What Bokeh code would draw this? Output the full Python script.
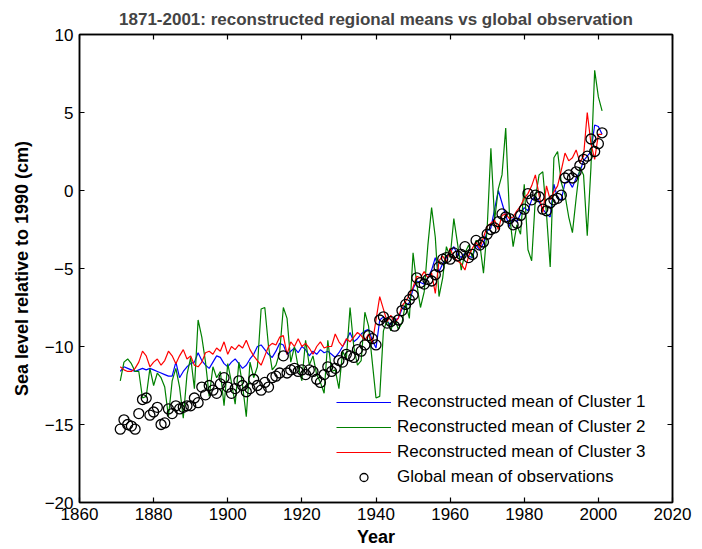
import numpy as np
from bokeh.plotting import figure
from bokeh.models import Range1d, LinearAxis, Legend, LegendItem, FixedTicker, ColumnDataSource
from bokeh.embed import file_html
from bokeh.resources import INLINE

years = list(range(1871, 2002))

obs = [-15.3, -14.7, -15.0, -15.1, -15.3, -14.3, -13.4, -13.3, -14.4, -14.2,
       -13.9, -15.0, -14.9, -14.0, -14.3, -13.8, -14.0, -13.9, -13.8, -13.8,
       -13.3, -13.6, -12.6, -13.1, -12.5, -12.8, -13.0, -12.4, -12.0, -12.6,
       -13.0, -12.7, -12.2, -12.5, -12.9, -12.7, -12.1, -12.5, -12.8, -12.3,
       -12.6, -12.0, -11.9, -11.7, -10.6, -11.7, -11.5, -11.4, -11.6, -11.5,
       -11.8, -11.5, -11.6, -12.1, -12.3, -11.8, -11.3, -11.6, -11.4, -10.9,
       -11.0, -10.5, -10.6, -10.7, -10.2, -10.3, -9.9, -9.3, -9.5, -9.9,
       -8.3, -8.1, -8.5, -8.4, -8.7, -8.3, -7.7, -7.3, -7.0, -6.7,
       -5.6, -5.9, -6.0, -5.7, -5.8, -5.4, -4.9, -4.4, -4.3, -4.4,
       -4.0, -4.2, -4.1, -3.6, -4.3, -4.1, -3.2, -3.5, -3.3, -2.8,
       -2.5, -2.4, -2.0, -1.5, -1.7, -1.8, -2.2, -2.1, -1.6, -1.2,
       -0.2, -0.6, -0.3, -0.4, -1.2, -1.3, -0.8, -0.6, -0.5, -0.3,
       0.8, 1.0, 0.8, 1.2, 1.6, 2.0, 2.2, 3.3, 2.5, 3.0, 3.7]

cluster1 = [-11.6, -11.3, -11.4, -11.5, -11.6, -11.5, -11.4, -11.5, -11.4, -11.5,
            -11.6, -11.7, -11.8, -11.9, -11.9, -11.0, -12.0, -11.6, -11.3, -11.1,
            -11.0, -10.4, -10.9, -11.2, -11.4, -11.0, -10.6, -10.7, -11.1, -11.3,
            -11.0, -10.8, -11.1, -11.4, -11.2, -10.8, -10.5, -10.0, -9.9, -10.2,
            -10.5, -10.7, -10.3, -9.8, -9.9, -10.5, -10.3, -10.1, -10.4, -10.0,
            -10.2, -10.6, -10.3, -10.5, -10.2, -10.4, -10.3, -10.5, -10.7, -10.4,
            -10.0, -9.6, -9.1, -9.7, -9.5, -9.2, -9.0, -8.9, -9.6, -10.1,
            -8.3, -8.1, -8.4, -8.6, -8.3, -8.2, -7.6, -7.4, -7.2, -6.3,
            -5.8, -5.9, -6.0, -5.6, -5.1, -4.3, -5.2, -4.7, -4.3, -4.0,
            -3.6, -4.1, -4.3, -4.0, -4.2, -4.3, -3.5, -3.8, -3.4, -2.6,
            -2.4, -1.2, 0.0, -0.8, -1.6, -2.3, -1.8, -2.0, -1.5, -1.1,
            -1.3, -0.6, -0.4, -0.7, -1.2, -1.5, -1.7, 0.4, -0.5, -0.6,
            0.5, 0.6, 0.2, 0.8, 1.2, 1.9, 2.2, 2.5, 4.2, 4.1, 3.6]

cluster2 = [-12.2, -11.0, -10.8, -11.1, -11.6, -11.6, -13.3, -13.2, -11.4, -12.5,
            -11.7, -12.0, -12.6, -14.5, -12.2, -11.4, -12.6, -14.6, -11.8, -10.7,
            -12.7, -8.3, -9.4, -11.0, -13.2, -11.3, -12.0, -11.6, -13.8, -11.1,
            -12.3, -13.7, -11.0, -12.5, -14.5, -11.0, -12.0, -11.3, -7.6, -7.5,
            -10.0, -11.5, -11.2, -10.4, -7.5, -8.2, -11.0, -10.0, -11.3, -12.2,
            -9.6, -11.2, -10.6, -11.8, -12.3, -13.0, -9.6, -11.6, -11.5, -12.7,
            -10.3, -10.8, -7.5, -10.0, -11.2, -10.9, -7.8, -8.7, -11.0, -13.3,
            -13.2, -9.0, -8.3, -9.0, -8.1, -8.9, -8.5, -7.2, -8.2, -4.0,
            -6.0, -7.5, -6.5, -3.5, -1.1, -3.0, -6.8, -5.6, -3.6, -4.3,
            -1.8, -3.4, -5.1, -4.0, -3.5, -4.3, -3.2, -3.4, -5.3, -2.4,
            2.7, -1.9, 0.1, 1.0, 4.0, -1.5, -3.6, -2.2, -2.8, 0.4,
            -3.8, -4.5, -0.5, 1.0, 1.2, -1.5, -4.9, 2.1, 2.5, 0.5,
            -0.3, -1.7, -2.7, -0.5, 1.5, 1.0, -2.9, 1.5, 7.7, 6.0, 5.1]

cluster3 = [-11.3, -11.5, -11.6, -11.6, -11.4, -11.0, -10.3, -10.6, -11.3, -11.0,
            -10.8, -11.2, -10.9, -10.3, -10.6, -11.1, -10.6, -10.2, -10.8, -10.6,
            -11.2, -11.3, -11.0, -10.4, -10.3, -10.5, -10.1, -10.3, -9.7, -10.5,
            -10.0, -10.2, -9.9, -10.1, -9.6, -10.2, -10.6, -10.9, -11.2, -10.6,
            -10.0, -9.8, -9.9, -9.4, -9.3, -10.5, -9.7, -10.0, -9.5, -10.0,
            -9.8, -10.1, -10.5, -10.0, -9.7, -10.1, -10.0, -10.0, -9.2, -9.7,
            -10.0, -9.5, -9.7, -9.4, -9.1, -9.3, -9.6, -9.2, -9.8, -8.3,
            -6.8, -7.6, -8.4, -8.0, -8.5, -8.2, -7.4, -7.1, -6.7, -6.2,
            -5.5, -5.6, -5.2, -5.6, -5.3, -6.6, -4.5, -4.2, -4.6, -3.7,
            -4.3, -4.5, -4.7, -5.1, -4.2, -3.7, -3.3, -3.7, -3.0, -2.3,
            -2.1, -1.9, -2.5, -1.6, -1.5, -1.8, -1.7, -1.3, -1.0, -0.5,
            -0.2, 0.3, 1.0, -0.3, -1.4, 0.3, -0.6, -0.1, 0.3, 1.3,
            2.4, 1.9, 2.1, 2.6, 1.8, 2.2, 5.0, 3.0, 2.0, 3.6, 3.6]

x_ticks = [1860, 1880, 1900, 1920, 1940, 1960, 1980, 2000, 2020]
y_ticks = [-20, -15, -10, -5, 0, 5, 10]

title_text = "1871-2001: reconstructed regional means vs global observation"
x_label = "Year"
y_label = "Sea level relative to 1990 (cm)"
legend_labels = ["Reconstructed mean of Cluster 1", "Reconstructed mean of Cluster 2",
                 "Reconstructed mean of Cluster 3", "Global mean of observations"]

FONT = "Liberation Sans"

src = ColumnDataSource(dict(year=years, obs=obs, c1=cluster1, c2=cluster2, c3=cluster3))

p = figure(width=702, height=549, output_backend="svg", toolbar_location=None,
           x_range=Range1d(1860, 2020), y_range=Range1d(-20, 10),
           min_border_left=79, min_border_right=30, min_border_top=34, min_border_bottom=47,
           x_axis_location=None, y_axis_location=None)
p.background_fill_color = "white"
p.border_fill_color = "white"
p.grid.visible = False
p.outline_line_color = "black"
p.outline_line_width = 1.5

p.title.text = title_text
p.title.align = "center"
p.title.vertical_align = "top"
p.title.text_font = FONT
p.title.text_font_size = "17px"
p.title.text_font_style = "bold"
p.title.standoff = 8

xb = LinearAxis(axis_label=x_label)
xt = LinearAxis()
yl = LinearAxis(axis_label=y_label)
yr = LinearAxis()
for ax, ticks, show in ((xb, x_ticks, True), (xt, x_ticks, False),
                        (yl, y_ticks, True), (yr, y_ticks, False)):
    ax.ticker = FixedTicker(ticks=ticks)
    ax.major_tick_in = 5
    ax.major_tick_out = 0
    ax.minor_tick_line_color = None
    ax.axis_line_width = 1.5
    ax.major_tick_line_width = 1.2
    ax.major_label_text_font = FONT
    if show:
        ax.major_label_text_font_size = "17px"
        ax.major_label_text_color = "black"
    else:
        ax.major_label_text_font_size = "1px"
        ax.major_label_text_color = None
        ax.major_label_standoff = 0
xb.major_label_standoff = 5
yl.major_label_standoff = 6
for ax in (xb, yl):
    ax.axis_label_text_font = FONT
    ax.axis_label_text_font_size = "18px"
    ax.axis_label_text_font_style = "bold"
    ax.axis_label_text_color = "black"
xb.axis_label_standoff = 4
yl.axis_label_standoff = 10
p.add_layout(xb, "below")
p.add_layout(xt, "above")
p.add_layout(yl, "left")
p.add_layout(yr, "right")

r1 = p.line("year", "c1", source=src, line_color="#0000ff", line_width=1.2)
r2 = p.line("year", "c2", source=src, line_color="#008000", line_width=1.2)
r3 = p.line("year", "c3", source=src, line_color="#ff0000", line_width=1.2)
r4 = p.scatter("year", "obs", source=src, marker="circle", size=10,
               fill_color=None, line_color="black", line_width=1.3)

legend = Legend(items=[LegendItem(label=legend_labels[0], renderers=[r1]),
                       LegendItem(label=legend_labels[1], renderers=[r2]),
                       LegendItem(label=legend_labels[2], renderers=[r3]),
                       LegendItem(label=legend_labels[3], renderers=[r4])],
                location=(257, 15), orientation="vertical",
                border_line_color=None, background_fill_alpha=0.0,
                label_text_font=FONT, label_text_font_size="17px",
                label_text_color="black",
                glyph_width=55, glyph_height=20, label_height=20,
                label_standoff=6, spacing=5, padding=0, margin=0)
p.add_layout(legend, "center")

open("out.html", "w").write(file_html(p, INLINE))
